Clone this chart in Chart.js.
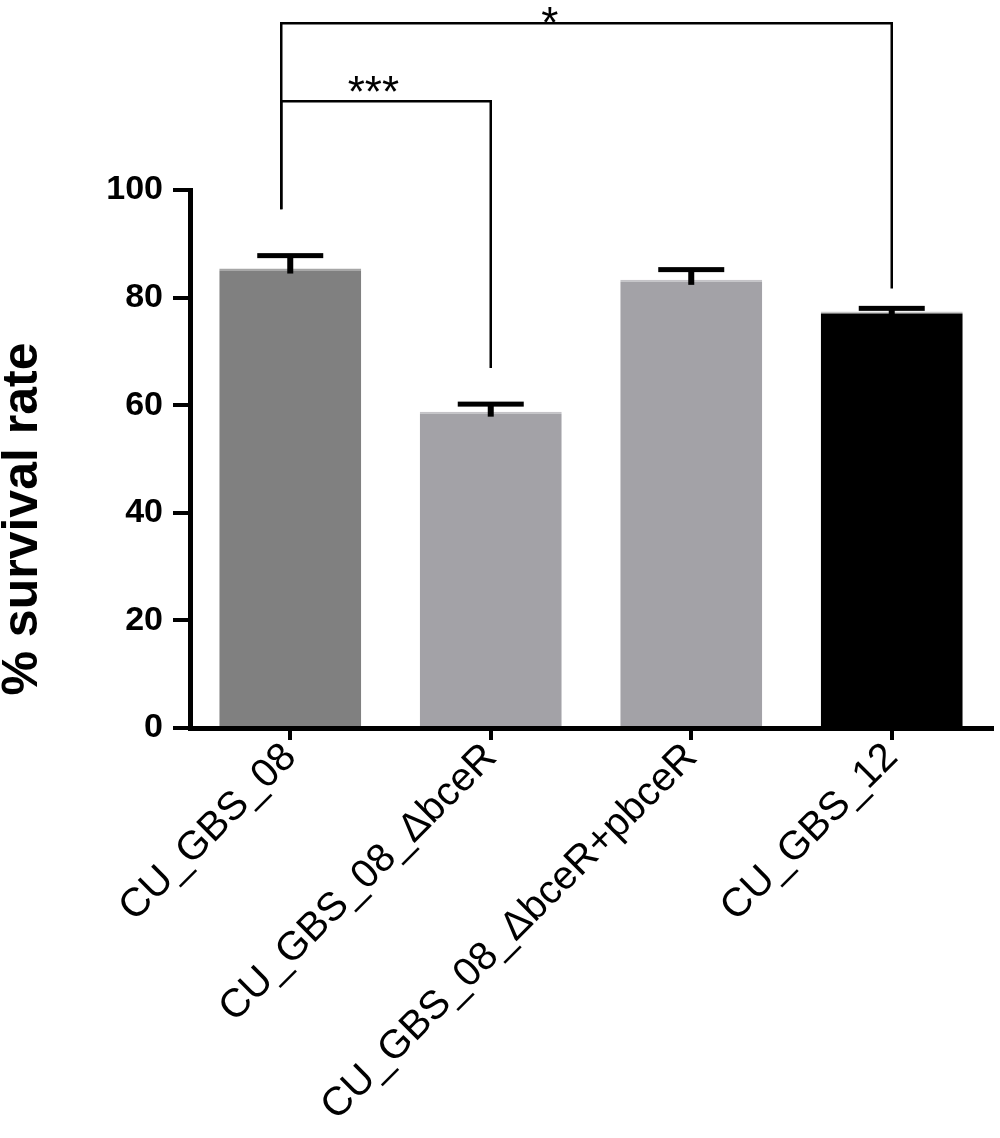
<!DOCTYPE html>
<html>
<head>
<meta charset="utf-8">
<script src="https://cdn.jsdelivr.net/npm/chart.js@4.4.0/dist/chart.umd.min.js"></script>
<style>
  html, body { margin: 0; padding: 0; background: #fff; }
  #wrap { width: 1000px; height: 1138px; }
</style>
</head>
<body>
<div id="wrap"><canvas id="chart"></canvas></div>
<script>
const strains = ["CU_GBS_08", "CU_GBS_08_ΔbceR", "CU_GBS_08_ΔbceR+pbceR", "CU_GBS_12"];
const survival = [85.4, 58.8, 83.3, 77.4];
const sem = [2.4, 1.4, 1.9, 0.6];
const yTicks = [0, 20, 40, 60, 80, 100];

// significance brackets: bar pair, bracket level (%), where the two legs end (%), label
const pairs = [[0, 1], [0, 3]];
const pairLevels = [116.5, 131];
const legEnds = [[96.4, 66.9], [96.4, 81.7]];
const stars = ["***", "*"];

const barColors = ["#808080", "#a3a2a7", "#a3a2a7", "#000000"];
const barEdges = ["#a6a6a6", "#c4c3c7", "#c4c3c7", "#c8c8c8"];
const starGaps = [6, 15];
const FONT = "'Liberation Sans', Arial, sans-serif";

Chart.defaults.font.family = FONT;
Chart.defaults.color = "#000";

const errorBars = {
  id: "errorBars",
  afterDatasetsDraw(chart) {
    const ctx = chart.ctx;
    const y = chart.scales.y;
    chart.getDatasetMeta(0).data.forEach((bar, i) => {
      const top = y.getPixelForValue(survival[i] + sem[i]);
      ctx.save();
      ctx.fillStyle = "#000";
      ctx.fillRect(bar.x - 3, top, 6, bar.y - top + 5);
      ctx.fillRect(bar.x - 33, top - 2.5, 66, 5);
      ctx.restore();
    });
  }
};

const brackets = {
  id: "brackets",
  afterDraw(chart) {
    const ctx = chart.ctx;
    const x = chart.scales.x;
    const y = chart.scales.y;
    ctx.save();
    ctx.strokeStyle = "#000";
    ctx.lineWidth = 2.5;
    pairs.forEach((p, k) => {
      const x1 = x.getPixelForValue(p[0]) - 9;
      const x2 = x.getPixelForValue(p[1]);
      const yl = y.getPixelForValue(pairLevels[k]);
      ctx.beginPath();
      ctx.moveTo(x1, y.getPixelForValue(legEnds[k][0]));
      ctx.lineTo(x1, yl);
      ctx.lineTo(x2, yl);
      ctx.lineTo(x2, y.getPixelForValue(legEnds[k][1]));
      ctx.stroke();
      ctx.fillStyle = "#000";
      ctx.font = "44px " + FONT;
      ctx.textAlign = "center";
      ctx.textBaseline = "alphabetic";
      ctx.fillText(stars[k], x1 + 0.44 * (x2 - x1), yl + starGaps[k]);
    });
    ctx.restore();

    // y axis title
    ctx.save();
    ctx.translate(23, 519);
    ctx.rotate(-Math.PI / 2);
    ctx.font = "bold 50px " + FONT;
    ctx.fillStyle = "#000";
    ctx.textAlign = "center";
    ctx.textBaseline = "middle";
    ctx.fillText("% survival rate", 0, 0);
    ctx.restore();
  }
};

new Chart(document.getElementById("chart"), {
  type: "bar",
  data: {
    labels: strains,
    datasets: [
      {
        data: survival,
        backgroundColor: barColors,
        borderColor: barEdges,
        borderWidth: { top: 2, left: 0, right: 0, bottom: 0 },
        borderSkipped: "start",
        barPercentage: 0.708,
        categoryPercentage: 1.0,
      },
    ],
  },
  options: {
    responsive: true,
    maintainAspectRatio: false,
    animation: false,
    layout: { padding: { top: 190, right: 8, left: 0, bottom: 0 } },
    plugins: {
      legend: { display: false },
      tooltip: { enabled: false },
    },
    scales: {
      x: {
        grid: { drawOnChartArea: false, offset: false, tickLength: 12, lineWidth: 4, color: "#000" },
        border: { display: true, width: 5, color: "#000" },
        ticks: {
          autoSkip: false,
          minRotation: 45,
          maxRotation: 45,
          padding: -6,
          font: { size: 40 },
          color: "#000",
        },
        afterFit: (s) => {
          s.height = 410;
          s.paddingLeft = 0;
          s.paddingRight = 0;
        },
      },
      y: {
        min: 0,
        max: 100,
        afterBuildTicks: (s) => {
          s.ticks = yTicks.map((v) => ({ value: v }));
        },
        grid: { drawOnChartArea: false, tickLength: 17, lineWidth: 4, color: "#000" },
        border: { display: true, width: 5, color: "#000" },
        ticks: {
          padding: 10,
          font: { size: 34, weight: "bold" },
          color: "#000",
        },
        afterFit: (s) => {
          s.width = 190;
        },
      },
    },
  },
  plugins: [errorBars, brackets],
});
</script>
</body>
</html>
